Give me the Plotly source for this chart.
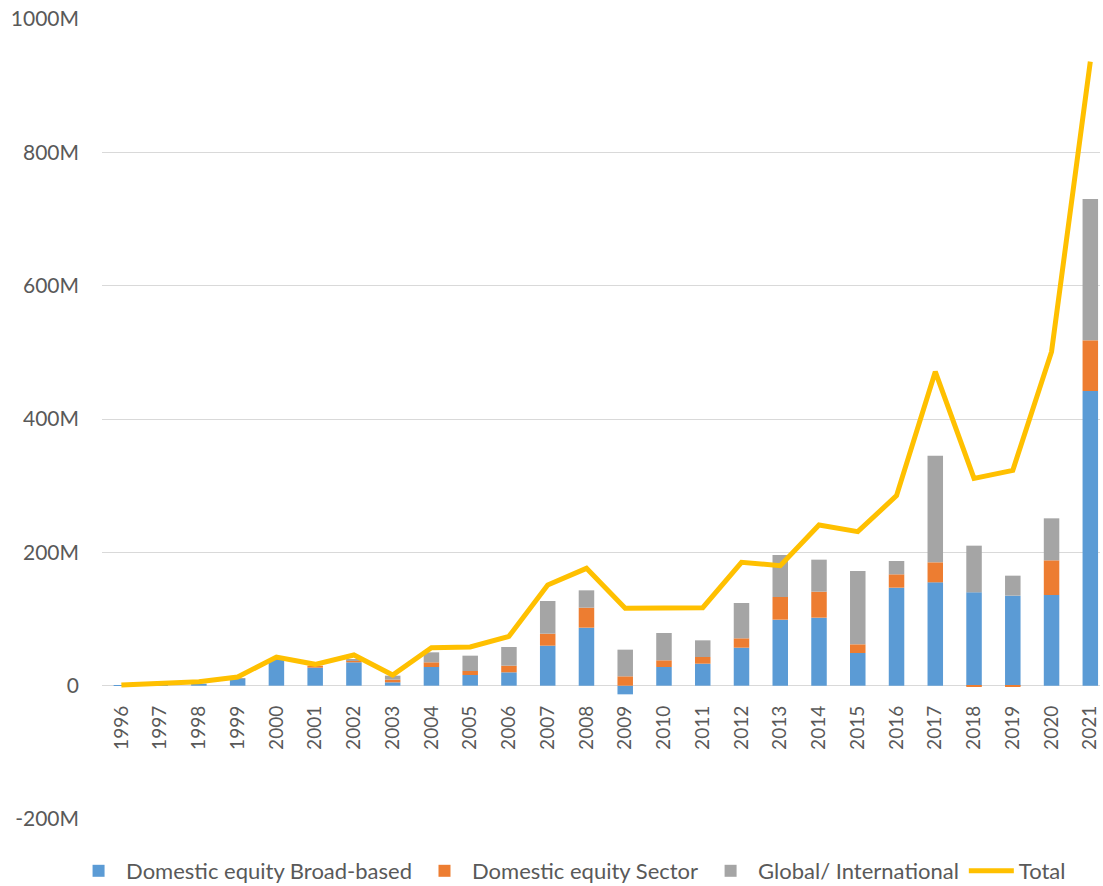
import plotly.graph_objects as go

years = [str(y) for y in range(1996, 2022)]
broad = [0.5, 1, 3, 10, 39, 27, 35, 5, 28, 16, 20, 60, 87, -13, 28, 33, 57, 99, 102, 49, 147, 155, 140, 135, 136, 442]
sector = [0, 0, 0, 0, 1, 3, 3, 4, 7, 6, 10, 18, 30, 14, 10, 10, 14, 34, 39, 13, 20, 30, -2, -2, 52, 76]
glob = [0, 0, 0, 1, 0, 0, 1, 6, 15, 23, 28, 49, 26, 40, 41, 25, 53, 63, 48, 110, 20, 160, 70, 30, 63, 212]
total = [1, 4, 6, 13, 43, 32, 46, 16, 57, 58, 74, 151, 176, 116, 117, 117, 185, 180, 241, 231, 285, 471, 311, 323, 501, 936]

ytickvals = [-200, 0, 200, 400, 600, 800, 1000]
yticktext = ["-200M", "0", "200M", "400M", "600M", "800M", "1000M"]

FONT = "Lato, Liberation Sans, Arial, sans-serif"
TXT = "#595959"

fig = go.Figure()
fig.add_trace(go.Bar(x=years, y=broad, name="Domestic equity Broad-based", marker=dict(color="#5B9BD5", line=dict(width=0))))
fig.add_trace(go.Bar(x=years, y=sector, name="Domestic equity Sector", marker=dict(color="#ED7D31", line=dict(width=0))))
fig.add_trace(go.Bar(x=years, y=glob, name="Global/ International", marker=dict(color="#A5A5A5", line=dict(width=0))))
fig.add_trace(go.Scatter(x=years, y=total, name="Total", mode="lines", line=dict(color="#FFC000", width=5)))

fig.update_layout(
    width=1103, height=886,
    margin=dict(l=102, r=3, t=19, b=67, autoexpand=False),
    paper_bgcolor="white", plot_bgcolor="white",
    barmode="relative", bargap=0.6,
    font=dict(family=FONT, size=20, color=TXT),
    legend=dict(orientation="h", x=0.47, xanchor="center", y=-0.065, yanchor="middle",
                font=dict(size=22, color=TXT), itemwidth=45, traceorder="normal"),
    xaxis=dict(type="category", range=[-0.5, 25.25], anchor="free", position=(819 - 686) / 800,
               tickangle=-90, showgrid=False, showline=False, ticks="",
               tickfont=dict(size=19, color=TXT), ticklabelstandoff=15),
    yaxis=dict(range=[-200, 1000], tickvals=ytickvals, ticktext=yticktext,
               showgrid=True, gridcolor="#D9D9D9", gridwidth=1,
               zeroline=True, zerolinecolor="#D9D9D9", zerolinewidth=1,
               showline=False, ticks="", ticklabelstandoff=22,
               tickfont=dict(size=21, color=TXT)),
)

fig.write_html("out.html")
